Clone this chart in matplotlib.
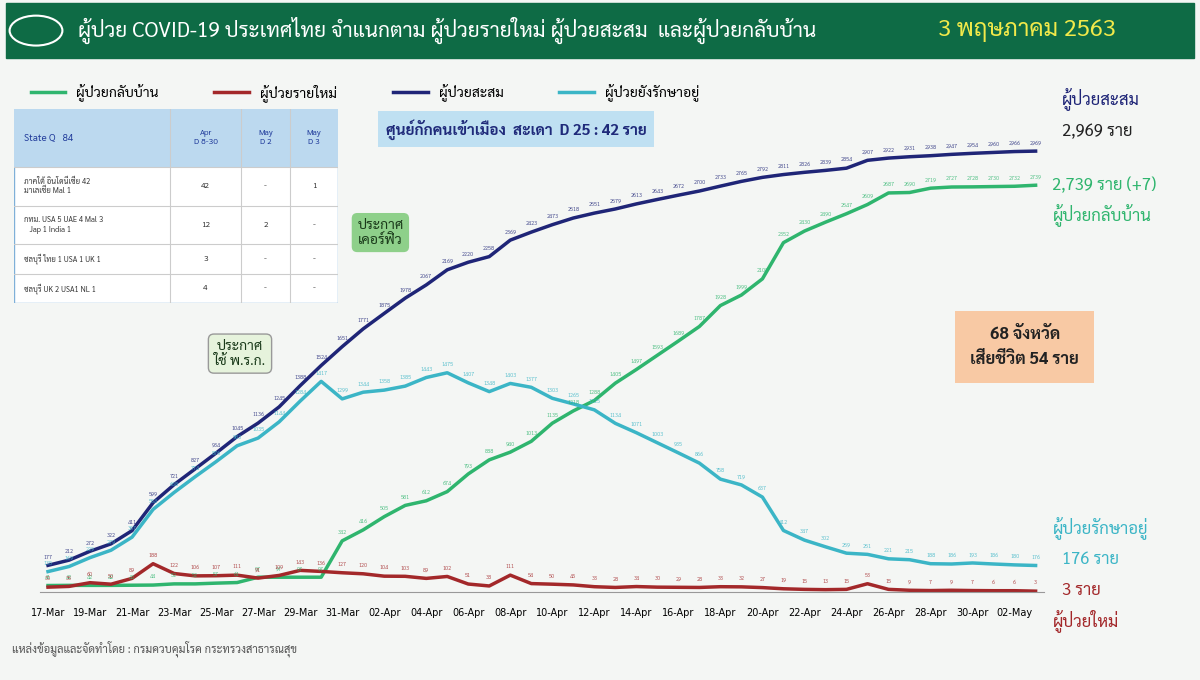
import matplotlib
matplotlib.use("Agg")
import matplotlib.pyplot as plt
from matplotlib import font_manager as fm
from matplotlib.patches import Rectangle
import numpy as np
import glob

for f in glob.glob("/usr/share/fonts/truetype/google-fonts/Sarabun-*.ttf"):
    try:
        fm.fontManager.addfont(f)
    except Exception:
        pass
plt.rcParams['font.family'] = ['Sarabun', 'DejaVu Sans']

dates = ["17-Mar","18-Mar","19-Mar","20-Mar","21-Mar","22-Mar","23-Mar","24-Mar","25-Mar","26-Mar",
         "27-Mar","28-Mar","29-Mar","30-Mar","31-Mar","01-Apr","02-Apr","03-Apr","04-Apr","05-Apr",
         "06-Apr","07-Apr","08-Apr","09-Apr","10-Apr","11-Apr","12-Apr","13-Apr","14-Apr","15-Apr",
         "16-Apr","17-Apr","18-Apr","19-Apr","20-Apr","21-Apr","22-Apr","23-Apr","24-Apr","25-Apr",
         "26-Apr","27-Apr","28-Apr","29-Apr","30-Apr","01-May","02-May","03-May"]
cumulative = [177,212,272,322,411,599,721,827,934,1045,1136,1245,1388,1524,1651,1771,1875,1978,2067,2169,
              2220,2258,2369,2423,2473,2518,2551,2579,2613,2643,2672,2700,2733,2765,2792,2811,2826,2839,2854,2907,
              2922,2931,2938,2947,2954,2960,2966,2969]
new_cases = [30,35,60,50,89,188,122,106,107,111,91,109,143,136,127,120,104,103,89,102,
             51,38,111,54,50,45,33,28,34,30,29,28,33,32,27,19,15,13,15,53,
             15,9,7,9,7,6,6,3]
recovered = [41,42,42,42,43,44,52,52,57,61,97,97,97,97,342,416,505,581,612,674,
             793,888,940,1013,1135,1218,1288,1405,1497,1593,1689,1787,1928,1999,2108,2352,2430,2490,2547,2609,
             2687,2690,2719,2727,2728,2730,2732,2739]
active = [135,169,229,279,367,554,668,774,876,983,1035,1144,1284,1417,1299,1344,1358,1385,1443,1475,
          1407,1348,1403,1377,1303,1265,1225,1134,1071,1003,935,866,758,719,637,412,347,302,259,251,
          221,215,188,186,193,186,180,176]

C_CUM = "#1f2577"; C_REC = "#2fb56e"; C_ACT = "#3bb5c6"; C_NEW = "#a3282a"

fig = plt.figure(figsize=(12, 6.8), dpi=100)
fig.patch.set_facecolor("#f4f6f4")
fig.add_artist(Rectangle((0.005, 0.915), 0.99, 0.08, transform=fig.transFigure, color="#0e6b45"))
fig.add_artist(plt.Circle((0.03, 0.955), 0.022, transform=fig.transFigure, color="white", fill=False, lw=1.5))
fig.text(0.065, 0.955, "ผู้ป่วย COVID-19 ประเทศไทย จำแนกตาม ผู้ป่วยรายใหม่ ผู้ป่วยสะสม  และผู้ป่วยกลับบ้าน",
         color="white", fontsize=15, va="center")
fig.text(0.93, 0.955, "3 พฤษภาคม 2563", color="#f1e94a", fontsize=17, va="center", ha="right")

ax = fig.add_axes([0.033, 0.13, 0.837, 0.72])
ax.set_facecolor("none")
x = np.arange(len(dates))
ax.plot(x, recovered, color=C_REC, lw=2.5)
ax.plot(x, new_cases, color=C_NEW, lw=2.5)
ax.plot(x, cumulative, color=C_CUM, lw=2.5)
ax.plot(x, active, color=C_ACT, lw=2.5)
for series, col in [(cumulative, C_CUM), (recovered, C_REC), (active, C_ACT), (new_cases, C_NEW)]:
    for xi, v in zip(x, series):
        ax.text(xi, v + 45, str(v), fontsize=4, color=col, ha="center", alpha=0.8)
ax.set_xlim(-0.4, len(dates) - 0.6)
ax.set_ylim(0, 3300)
ax.set_yticks([])
ax.set_xticks(x[::2])
ax.set_xticklabels(dates[::2], fontsize=7, rotation=0, family="DejaVu Sans")
ax.tick_params(axis="x", length=0, pad=12)
for s in ["top", "right", "left"]:
    ax.spines[s].set_visible(False)
ax.spines["bottom"].set_color("#999999")

handles = [plt.Line2D([], [], color=c, lw=2.5) for c in [C_REC, C_NEW, C_CUM, C_ACT]]
fig.legend(handles, ["ผู้ป่วยกลับบ้าน", "ผู้ป่วยรายใหม่", "ผู้ป่วยสะสม", "ผู้ป่วยยังรักษาอยู่"],
           loc="upper left", bbox_to_anchor=(0.015, 0.895), ncol=4, frameon=False, fontsize=10,
           handlelength=2.5, columnspacing=4)

tab = fig.add_axes([0.012, 0.555, 0.27, 0.285])
tab.axis("off")
tab.set_xlim(0, 1); tab.set_ylim(0, 1)
tab.add_patch(Rectangle((0, 0), 1, 1, facecolor="white", edgecolor="#7fb0d8"))
tab.add_patch(Rectangle((0, 0.7), 1, 0.3, facecolor="#bcd9ef"))
cols = [0, 0.48, 0.7, 0.85, 1]
for c in cols[1:-1]:
    tab.plot([c, c], [0, 1], color="#cccccc", lw=0.8)
for r in [0.7, 0.5, 0.3, 0.15]:
    tab.plot([0, 1], [r, r], color="#cccccc", lw=0.8)
tab.text(0.03, 0.85, "State Q   84", color="#1f3a9a", fontsize=7, va="center")
for cx, t in zip([0.59, 0.775, 0.925], ["Apr\nD 8-30", "May\nD 2", "May\nD 3"]):
    tab.text(cx, 0.85, t, fontsize=6, ha="center", va="center", color="#1f3a9a")
rows = ["ภาคใต้ อินโดนีเซีย 42\nมาเลเซีย Mal 1", "กทม. USA 5 UAE 4 Mal 3\n   Jap 1 India 1",
        "ชลบุรี ไทย 1 USA 1 UK 1", "ชลบุรี UK 2 USA1 NL 1"]
vals = [("42", "-", "1"), ("12", "2", "-"), ("3", "-", "-"), ("4", "-", "-")]
ys = [0.6, 0.4, 0.225, 0.075]
for y, r, v in zip(ys, rows, vals):
    tab.text(0.03, y, r, fontsize=5.5, va="center", color="#333333")
    for cx, t in zip([0.59, 0.775, 0.925], v):
        tab.text(cx, y, t, fontsize=6, ha="center", va="center", color="#333333")

fig.text(0.43, 0.81, "ศูนย์กักคนเข้าเมือง  สะเดา  D 25 : 42 ราย", fontsize=11, color="#1f2a7a",
         ha="center", va="center", weight="bold",
         bbox=dict(boxstyle="square,pad=0.5", fc="#bfe0f2", ec="none"))
fig.text(0.317, 0.658, "ประกาศ\nเคอร์ฟิว", fontsize=10, color="#1a3a1a", ha="center", va="center",
         bbox=dict(boxstyle="round,pad=0.4", fc="#8ed08a", ec="none"))
fig.text(0.2, 0.48, "ประกาศ\nใช้ พ.ร.ก.", fontsize=10, color="#1a3a1a", ha="center", va="center",
         bbox=dict(boxstyle="round,pad=0.4", fc="#e6f3dc", ec="#999999"))
fig.text(0.854, 0.49, "68 จังหวัด\nเสียชีวิต 54 ราย", fontsize=12, color="#222222", ha="center",
         va="center", linespacing=1.6, weight="bold",
         bbox=dict(boxstyle="square,pad=0.9", fc="#f8c9a4", ec="none"))

fig.text(0.885, 0.845, "ผู้ป่วยสะสม", fontsize=12, color=C_CUM)
fig.text(0.885, 0.8, "2,969 ราย", fontsize=12, color="#222222")
fig.text(0.877, 0.72, "2,739 ราย (+7)", fontsize=12, color=C_REC)
fig.text(0.877, 0.675, "ผู้ป่วยกลับบ้าน", fontsize=12, color=C_REC)
fig.text(0.877, 0.215, "ผู้ป่วยรักษาอยู่", fontsize=12, color=C_ACT)
fig.text(0.885, 0.17, "176 ราย", fontsize=12, color=C_ACT)
fig.text(0.885, 0.125, "3 ราย", fontsize=12, color=C_NEW)
fig.text(0.877, 0.08, "ผู้ป่วยใหม่", fontsize=12, color=C_NEW)
fig.text(0.01, 0.04, "แหล่งข้อมูลและจัดทำโดย : กรมควบคุมโรค กระทรวงสาธารณสุข", fontsize=8, color="#555555")

fig.savefig("out.png", dpi=100, facecolor=fig.get_facecolor())
